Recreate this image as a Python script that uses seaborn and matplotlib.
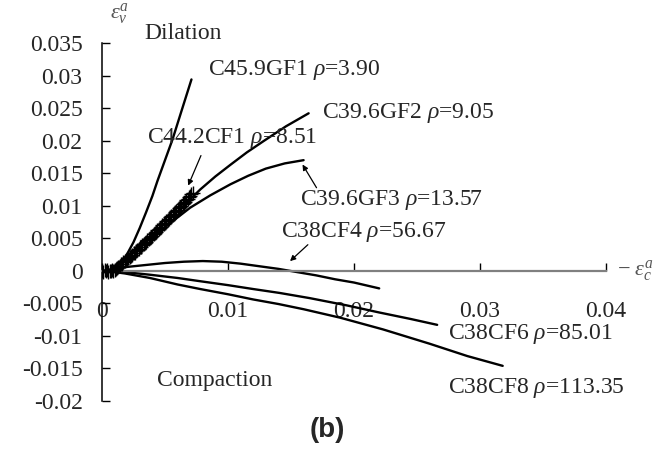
import matplotlib
matplotlib.use("Agg")
import matplotlib.pyplot as plt
import seaborn as sns
import pandas as pd

# ---- data: plastic volumetric strain vs. plastic lateral strain ----
gf1_x = [0.0008, 0.0012, 0.0016, 0.0020, 0.0025, 0.0030, 0.0035, 0.0040, 0.0044, 0.0050, 0.0056, 0.0063, 0.0071]
gf1_y = [0.0001, 0.0006, 0.0014, 0.0026, 0.0044, 0.0066, 0.0090, 0.0115, 0.0138, 0.0170, 0.0202, 0.0245, 0.0294]

gf2_x = [0.0006, 0.0014, 0.0022, 0.0034, 0.0046, 0.0060, 0.0078, 0.0090, 0.0102, 0.0115, 0.0128, 0.0146, 0.0164]
gf2_y = [0.0001, 0.0012, 0.0026, 0.0046, 0.0066, 0.0091, 0.0125, 0.0145, 0.0163, 0.0182, 0.0199, 0.0222, 0.0242]

gf3_x = [0.0006, 0.0016, 0.0030, 0.0040, 0.0050, 0.0060, 0.0070, 0.0086, 0.0102, 0.0116, 0.0130, 0.0145, 0.0160]
gf3_y = [0.0001, 0.0015, 0.0037, 0.0052, 0.0067, 0.0082, 0.0097, 0.0116, 0.0133, 0.0146, 0.0157, 0.0165, 0.0170]

cf4_x = [0.0002, 0.0010, 0.0020, 0.0035, 0.0050, 0.0065, 0.0080, 0.0095, 0.0110, 0.0125,
         0.0140, 0.0155, 0.0170, 0.0185, 0.0200, 0.0220]
cf4_y = [0.0, 0.0003, 0.0006, 0.0009, 0.0012, 0.0014, 0.0015, 0.0014, 0.0011, 0.0007,
         0.0003, -0.0002, -0.0007, -0.0013, -0.0018, -0.0027]

cf6_x = [0.0002, 0.0018, 0.0038, 0.0060, 0.0078, 0.0100, 0.0120, 0.0141, 0.0165, 0.0194, 0.0220, 0.0245, 0.0266]
cf6_y = [0.0, -0.0002, -0.0006, -0.0011, -0.0016, -0.0022, -0.0028, -0.0034, -0.0042, -0.0053, -0.0064, -0.0074, -0.0083]

cf8_x = [0.0002, 0.0018, 0.0038, 0.0060, 0.0078, 0.0100, 0.0120, 0.0140, 0.0160, 0.0189, 0.0223, 0.0260, 0.0290, 0.0318]
cf8_y = [0.0, -0.0004, -0.0011, -0.0021, -0.0028, -0.0036, -0.0044, -0.0051, -0.0059, -0.0072, -0.0090, -0.0112, -0.0131, -0.0146]

# C44.2CF1 test points (plotted as markers)
cf1_x = [0.0000, 0.0001, 0.0002, 0.0003, 0.0004, 0.0005, 0.0006, 0.0007, 0.0008, 0.0009,
         0.0010, 0.0011, 0.0012, 0.0013, 0.0014, 0.0015, 0.0016, 0.0017, 0.0018, 0.0019,
         0.0020, 0.0021, 0.0022, 0.0023, 0.0024, 0.0025, 0.0026, 0.0027, 0.0028, 0.0029,
         0.0030, 0.0031, 0.0032, 0.0033, 0.0034, 0.0035, 0.0036, 0.0037, 0.0038, 0.0039,
         0.0040, 0.0041, 0.0042, 0.0043, 0.0044, 0.0045, 0.0046, 0.0047, 0.0048, 0.0049,
         0.0050, 0.0051, 0.0052, 0.0053, 0.0054, 0.0055, 0.0056, 0.0057, 0.0058, 0.0059,
         0.0060, 0.0061, 0.0062, 0.0063, 0.0064, 0.0065, 0.0066, 0.0067, 0.0068, 0.0069,
         0.0070, 0.0071, 0.0072]
cf1_y = [0.0000, -0.0002, 0.0002, -0.0001, 0.0001, -0.0002, 0.0000, -0.0001, 0.0001, 0.0000,
         0.0002, 0.0003, 0.0005, 0.0006, 0.0008, 0.0010, 0.0011, 0.0013, 0.0015, 0.0016,
         0.0018, 0.0020, 0.0021, 0.0023, 0.0025, 0.0027, 0.0028, 0.0030, 0.0032, 0.0034,
         0.0036, 0.0037, 0.0039, 0.0041, 0.0043, 0.0045, 0.0047, 0.0049, 0.0051, 0.0052,
         0.0054, 0.0056, 0.0058, 0.0060, 0.0062, 0.0064, 0.0066, 0.0068, 0.0070, 0.0072,
         0.0074, 0.0076, 0.0078, 0.0080, 0.0082, 0.0084, 0.0086, 0.0088, 0.0090, 0.0092,
         0.0094, 0.0096, 0.0098, 0.0100, 0.0102, 0.0104, 0.0106, 0.0109, 0.0111, 0.0113,
         0.0115, 0.0118, 0.0120]

x_ticks = [0, 0.01, 0.02, 0.03, 0.04]
x_tick_labels = ["0", "0.01", "0.02", "0.03", "0.04"]
y_ticks = [0.035, 0.03, 0.025, 0.02, 0.015, 0.01, 0.005, 0, -0.005, -0.01, -0.015, -0.02]
y_tick_labels = ["0.035", "0.03", "0.025", "0.02", "0.015", "0.01", "0.005", "0",
                 "-0.005", "-0.01", "-0.015", "-0.02"]

# ---- style ----
sns.set_theme(style="white")
plt.rcParams["font.family"] = ["Liberation Serif", "DejaVu Serif"]
plt.rcParams["mathtext.fontset"] = "custom"
plt.rcParams["mathtext.rm"] = "Liberation Serif"
plt.rcParams["mathtext.it"] = "Liberation Serif:italic"
FS = 17

fig = plt.figure(figsize=(6.66, 4.57), dpi=100)
ax = fig.add_axes([102 / 666, 1 - 401 / 457, (606 - 102) / 666, (401 - 43) / 457])

line_series = [(gf1_x, gf1_y), (gf2_x, gf2_y), (gf3_x, gf3_y),
               (cf4_x, cf4_y), (cf6_x, cf6_y), (cf8_x, cf8_y)]
for xs, ys in line_series:
    sns.lineplot(x=xs, y=ys, ax=ax, color="black", lw=1.7, sort=False, estimator=None)

cf1 = pd.DataFrame({"x": cf1_x, "y": cf1_y})
sns.scatterplot(data=cf1, x="x", y="y", ax=ax, marker="+", s=110, color="black",
                linewidth=1.0, zorder=3)

ax.set_xlim(0, 0.04)
ax.set_ylim(-0.02, 0.035)
ax.set_xlabel("")
ax.set_ylabel("")

for side in ("top", "right"):
    ax.spines[side].set_visible(False)
ax.spines["left"].set_color("black")
ax.spines["left"].set_linewidth(1.1)
ax.spines["bottom"].set_position(("data", 0))
ax.spines["bottom"].set_color("#808080")
ax.spines["bottom"].set_linewidth(1.6)

ax.set_xticks(x_ticks)
ax.set_xticklabels(x_tick_labels)
ax.set_yticks(y_ticks)
ax.set_yticklabels(y_tick_labels)
ax.tick_params(axis="x", direction="in", length=6, width=1, color="black",
               labelsize=FS, pad=22, bottom=True)
ax.tick_params(axis="y", direction="in", length=6, width=1, color="black",
               labelsize=FS, pad=14, left=True)
ax.grid(False)

# ---- curve labels ----
ax.text(0.0084, 0.0308, r"C45.9GF1 $\rho$=3.90", fontsize=FS, va="center", ha="left")
ax.text(0.01746, 0.0242, r"C39.6GF2 $\rho$=9.05", fontsize=FS, va="center", ha="left")
ax.text(0.0036, 0.0204, r"C44.2CF1 $\rho$=8.51", fontsize=FS, va="center", ha="left")
ax.text(0.01571, 0.0109, r"C39.6GF3 $\rho$=13.57", fontsize=FS, va="center", ha="left")
ax.text(0.0142, 0.0060, r"C38CF4 $\rho$=56.67", fontsize=FS, va="center", ha="left")
ax.text(0.02746, -0.00966, r"C38CF6 $\rho$=85.01", fontsize=FS, va="center", ha="left")
ax.text(0.02746, -0.01794, r"C38CF8 $\rho$=113.35", fontsize=FS, va="center", ha="left")

arrow = dict(arrowstyle="-|>", color="black", lw=0.9, mutation_scale=8)
ax.annotate("", xy=(0.00675, 0.0127), xytext=(0.00794, 0.0181), arrowprops=arrow)
ax.annotate("", xy=(0.0158, 0.0167), xytext=(0.01714, 0.0124), arrowprops=arrow)
ax.annotate("", xy=(0.01476, 0.0012), xytext=(0.0165, 0.0043), arrowprops=arrow)

ax.text(0.0034, 0.0365, "Dilation", fontsize=FS, va="center", ha="left", clip_on=False)
ax.text(0.00437, -0.01687, "Compaction", fontsize=FS, va="center", ha="left")

# axis symbols
ax.text(0.0409, 0.0, r"$-\ \varepsilon_c^a$", fontsize=16, color="#555555",
        va="center", ha="left", clip_on=False)
ax.text(0.0006, 0.0395, r"$\varepsilon_v^a$", fontsize=16, color="#555555",
        va="center", ha="left", clip_on=False)

fig.text(327 / 666, 1 - 430 / 457, "(b)", fontsize=20, fontweight="bold",
         family="Liberation Sans", ha="center", va="center")

fig.savefig("out.png", dpi=100)
